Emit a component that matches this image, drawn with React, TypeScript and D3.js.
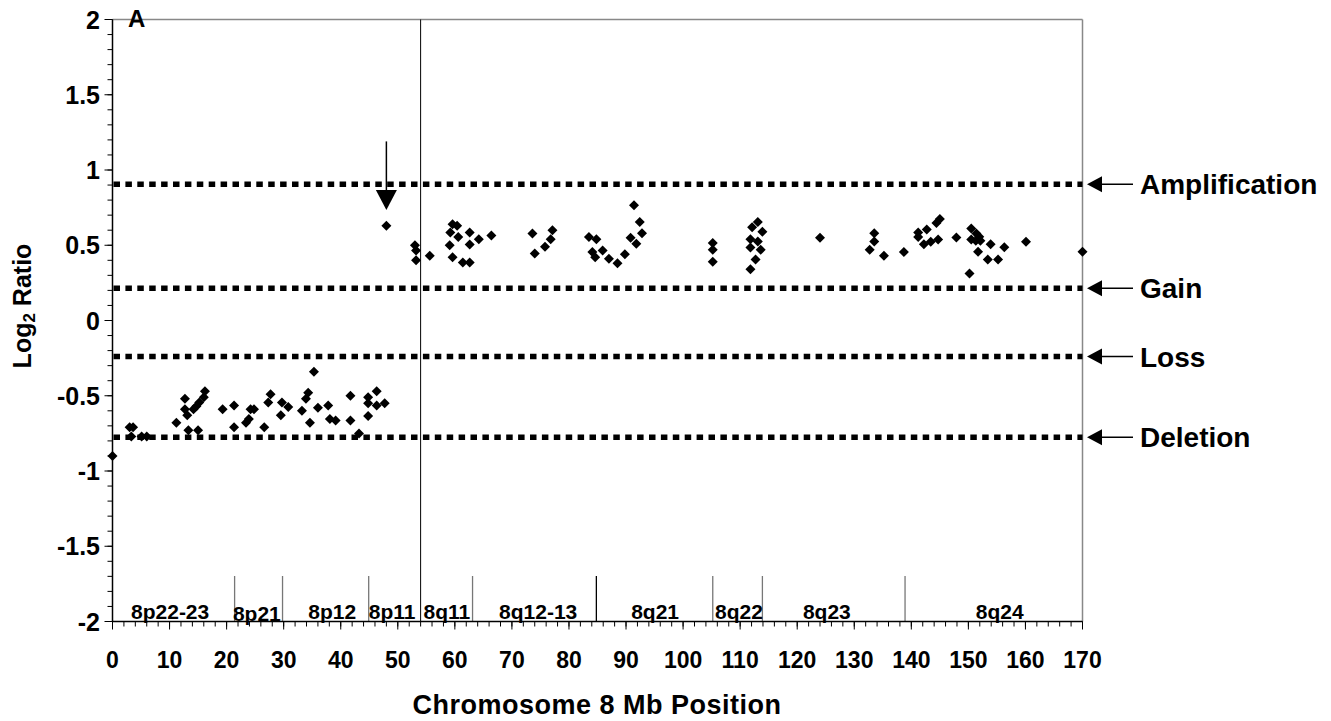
import React from "react";
import * as d3 from "d3";

// ---- data ----
const pArmPoints: [number, number][] = [
  [0, -0.9],
  [3.0, -0.71], [3.6, -0.71], [3.3, -0.77], [5.1, -0.77], [6.0, -0.77],
  [11.2, -0.68], [12.7, -0.52], [12.7, -0.59], [13.1, -0.63], [13.3, -0.73], [14.2, -0.59],
  [14.7, -0.57], [15.2, -0.545], [15.0, -0.73], [16.2, -0.47], [16.0, -0.51],
  [19.3, -0.59], [21.3, -0.565], [21.3, -0.71], [23.4, -0.68], [23.9, -0.655], [24.2, -0.59],
  [24.8, -0.59], [26.6, -0.71], [27.3, -0.545], [27.7, -0.49], [29.5, -0.63], [29.7, -0.545], [30.8, -0.575],
  [33.2, -0.6], [33.9, -0.52], [34.3, -0.48], [34.6, -0.68], [35.3, -0.34], [36.0, -0.58],
  [37.8, -0.565], [38.1, -0.655], [39.1, -0.665], [41.7, -0.5], [41.7, -0.665], [43.2, -0.75],
  [44.8, -0.51], [44.8, -0.55], [44.8, -0.635], [46.3, -0.47], [46.3, -0.565], [47.7, -0.55],
];

const qArmPoints: [number, number][] = [
  [48.0, 0.63],
  [53.0, 0.5], [53.2, 0.465], [53.2, 0.4], [55.6, 0.43],
  [59.6, 0.64], [60.4, 0.63], [59.2, 0.585], [60.6, 0.555], [62.6, 0.585], [64.2, 0.54],
  [62.6, 0.505], [59.1, 0.5], [66.4, 0.565], [59.6, 0.42], [61.4, 0.385], [62.6, 0.385],
  [73.6, 0.578], [77.1, 0.6], [76.8, 0.54], [75.8, 0.49], [74.0, 0.445],
  [83.5, 0.555], [84.8, 0.54], [84.1, 0.455], [85.9, 0.465], [84.6, 0.42], [87.0, 0.41],
  [88.5, 0.38], [89.8, 0.44], [90.8, 0.55], [91.4, 0.765], [92.4, 0.655], [92.8, 0.58], [91.8, 0.51],
  [105.2, 0.515], [105.2, 0.47], [105.2, 0.39],
  [112.1, 0.62], [113.1, 0.655], [113.9, 0.59], [111.8, 0.54], [113.1, 0.525], [111.8, 0.485],
  [113.6, 0.47], [112.7, 0.405], [111.8, 0.34],
  [124.0, 0.55],
  [133.5, 0.58], [133.5, 0.525], [132.7, 0.47], [135.2, 0.43], [138.7, 0.455],
  [141.2, 0.585], [141.2, 0.555], [142.7, 0.605], [142.2, 0.507], [143.4, 0.523], [144.7, 0.539],
  [144.4, 0.648], [145.0, 0.675], [147.9, 0.552],
  [150.5, 0.612], [151.4, 0.578], [151.9, 0.556], [150.5, 0.539], [151.3, 0.53], [152.1, 0.53],
  [151.7, 0.457], [153.9, 0.507], [153.4, 0.406], [155.2, 0.406], [156.3, 0.486], [150.2, 0.313],
  [160.1, 0.523], [170.0, 0.457],
];

const thresholdValues = [0.905, 0.215, -0.24, -0.775];
const thresholdLabels = ["Amplification", "Gain", "Loss", "Deletion"];

const centromere = 54;
const bandBoundaries = [21.4, 29.8, 44.9, 63.1, 84.8, 105.2, 113.9, 138.9];
const bandNames = ["8p22-23", "8p21", "8p12", "8p11", "8q11", "8q12-13", "8q21", "8q22", "8q23", "8q24"];
const bandCenters = [10.1, 25.3, 38.5, 49.0, 58.6, 74.6, 95.1, 109.8, 125.2, 155.5];

const xTicks = d3.range(0, 171, 10);
const xMinorTicks = d3.range(0, 171, 2);
const yTicks = [2, 1.5, 1, 0.5, 0, -0.5, -1, -1.5, -2];
const yMinorTicks = d3.range(-20, 21, 1).map((v) => v / 10);

const arrowX = 48;
const arrowFrom = 1.19;
const arrowTo = 0.735;

const FONT = "'Liberation Sans', Arial, sans-serif";

export default function App() {
  const x = d3.scaleLinear().domain([0, 170]).range([112.5, 1082.5]);
  const y = d3.scaleLinear().domain([-2, 2]).range([621.5, 19.5]);
  const diamond = "M0,-5L5,0L0,5L-5,0Z";
  const allPoints = [...pArmPoints, ...qArmPoints];
  const [x0, x1] = x.range();
  const yTop = y(2);
  const yBot = y(-2);

  const ax = x(arrowX);
  const headTop = y(arrowTo) - 20;

  return (
    <svg width={1331} height={721} style={{ position: "absolute", left: 0, top: 0, background: "#fff" }} fontFamily={FONT}>
      {/* frame top & right */}
      <line x1={x0} x2={x1} y1={yTop} y2={yTop} stroke="#888" strokeWidth={1.5} />
      <line x1={x1} x2={x1} y1={yTop} y2={yBot} stroke="#888" strokeWidth={1.5} />

      {/* threshold dotted lines */}
      {thresholdValues.map((v, i) => (
        <line key={"th" + i} x1={x0 + 1} x2={x1} y1={y(v)} y2={y(v)} stroke="#000" strokeWidth={5.5} strokeDasharray="6.5 5.4" />
      ))}

      {/* centromere */}
      <line x1={x(centromere)} x2={x(centromere)} y1={yTop} y2={yBot} stroke="#000" strokeWidth={1} />

      {/* band boundaries */}
      {bandBoundaries.map((b, i) => (
        <line key={"bb" + i} x1={x(b)} x2={x(b)} y1={576} y2={yBot} stroke={i === 4 ? "#000" : "#777"} strokeWidth={1.3} />
      ))}
      {bandNames.map((n, i) => (
        <text key={"bn" + i} x={x(bandCenters[i])} y={i === 1 ? 621 : 619} textAnchor="middle" fontSize={21} fontWeight="bold">
          {n}
        </text>
      ))}

      {/* points */}
      {allPoints.map(([px, py], i) => (
        <path key={"pt" + i} d={diamond} transform={`translate(${x(px)},${y(py)})`} fill="#000" />
      ))}

      {/* axes */}
      <line x1={x0} x2={x0} y1={yTop} y2={yBot} stroke="#000" strokeWidth={1.5} />
      <line x1={x0} x2={x1} y1={yBot} y2={yBot} stroke="#000" strokeWidth={1.5} />
      {yMinorTicks.map((v, i) => (
        <line key={"ymt" + i} x1={x0 - 5} x2={x0} y1={y(v)} y2={y(v)} stroke="#000" strokeWidth={1} />
      ))}
      {yTicks.map((v, i) => (
        <g key={"yt" + i}>
          <line x1={x0 - 8} x2={x0} y1={y(v)} y2={y(v)} stroke="#000" strokeWidth={1} />
          <text x={100} y={y(v)} dy="0.36em" textAnchor="end" fontSize={25} fontWeight="bold">
            {v}
          </text>
        </g>
      ))}
      {xMinorTicks.map((v, i) => (
        <line key={"xmt" + i} x1={x(v)} x2={x(v)} y1={yBot} y2={yBot + 5} stroke="#000" strokeWidth={1} />
      ))}
      {xTicks.map((v, i) => (
        <g key={"xt" + i}>
          <line x1={x(v)} x2={x(v)} y1={yBot} y2={yBot + 8} stroke="#000" strokeWidth={1} />
          <text x={x(v)} y={668} textAnchor="middle" fontSize={23} fontWeight="bold">
            {v}
          </text>
        </g>
      ))}

      {/* axis titles */}
      <text x={597} y={714} textAnchor="middle" fontSize={27} fontWeight="bold" letterSpacing={0.5}>
        Chromosome 8 Mb Position
      </text>
      <text transform="translate(31,306) rotate(-90)" textAnchor="middle" fontSize={25} fontWeight="bold">
        Log<tspan fontSize={17} dy="4">2</tspan>
        <tspan dy="-4"> Ratio</tspan>
      </text>

      <text x={128} y={27} fontSize={24} fontWeight="bold">A</text>

      {/* arrow at 48 Mb */}
      <line x1={ax} x2={ax} y1={y(arrowFrom)} y2={headTop + 2} stroke="#000" strokeWidth={1.5} />
      <path d={`M${ax - 10.5},${headTop}L${ax + 10.5},${headTop}L${ax},${y(arrowTo)}Z`} fill="#000" />

      {/* right annotations */}
      {thresholdValues.map((v, i) => {
        const yy = y(v);
        return (
          <g key={"ra" + i}>
            <path d={`M1087,${yy}L1102,${yy - 8}L1102,${yy + 8}Z`} fill="#000" />
            <line x1={1100} x2={1133} y1={yy} y2={yy} stroke="#000" strokeWidth={1.5} />
            <text x={1140} y={yy} dy="0.36em" fontSize={28} fontWeight="bold">
              {thresholdLabels[i]}
            </text>
          </g>
        );
      })}
    </svg>
  );
}
